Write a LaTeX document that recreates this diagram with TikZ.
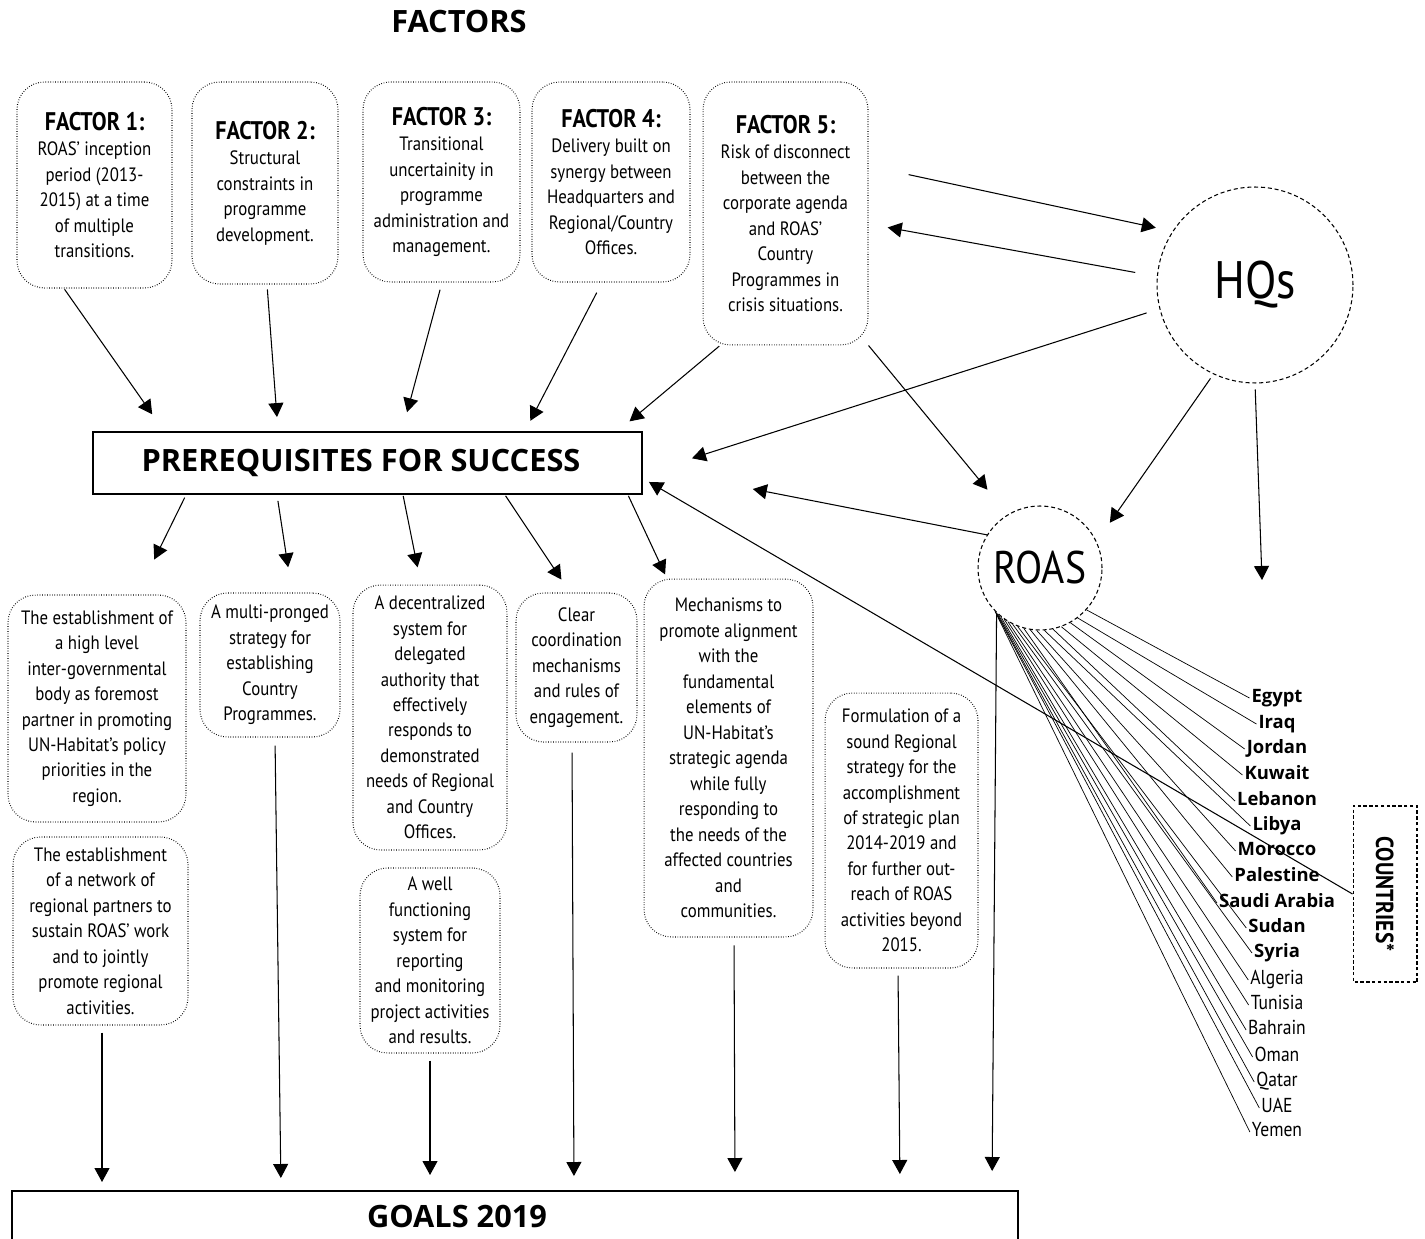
\documentclass[tikz,border=0pt]{standalone}
\usepackage{fontspec}
\setmainfont{PT Sans}[FakeStretch=0.87]
\newfontfamily\headfont{Open Sans}
\usepackage{tikz}
\usetikzlibrary{arrows.meta}

\begin{document}
\begin{tikzpicture}[
    x=0.02cm, y=-0.02cm,
    factorbox/.style={draw, line width=0.6pt, dash pattern=on 0.4pt off 1pt, rounded corners=0.55cm, align=center, font=\fontsize{11}{14.5}\selectfont, inner sep=2pt},
    headbox/.style={draw, line width=1.1pt, font=\headfont\fontsize{17.5}{20}\selectfont\bfseries},
    hub/.style={circle, draw, line width=0.6pt, dash pattern=on 2.3pt off 1.6pt, inner sep=0pt},
    country/.style={font=\fontsize{11.5}{13}\selectfont, inner sep=1pt, text height=8pt, text depth=2.5pt},
    arrow/.style={-{Triangle[length=2.8mm, width=3mm]}, line width=0.6pt},
    ray/.style={line width=0.4pt},
]
\useasboundingbox (0,0) rectangle (1425,1239);

% Title
\node[font=\headfont\fontsize{17.5}{20}\selectfont\bfseries] (title) at (459,22) {FACTORS};

% Factors
\node[factorbox, minimum width=3.1cm, minimum height=4.12cm] (f1) at (94.5,185) {\textbf{\fontsize{14.5}{14.5}\selectfont FACTOR 1:}\\ROAS’ inception\\period (2013-\\2015) at a time\\of multiple\\transitions.};
\node[factorbox, minimum width=2.92cm, minimum height=4.04cm] (f2) at (265,183) {\textbf{\fontsize{14.5}{14.5}\selectfont FACTOR 2:}\\Structural\\constraints in\\programme\\development.};
\node[factorbox, minimum width=3.14cm, minimum height=4cm] (f3) at (441.5,182) {\textbf{\fontsize{14.5}{14.5}\selectfont FACTOR 3:}\\Transitional\\uncertainity in\\programme\\administration and\\management.};
\node[factorbox, minimum width=3.16cm, minimum height=4cm] (f4) at (611,182) {\textbf{\fontsize{14.5}{14.5}\selectfont FACTOR 4:}\\Delivery built on\\synergy between\\Headquarters and\\Regional/Country\\Offices.};
\node[factorbox, minimum width=3.3cm, minimum height=5.26cm] (f5) at (785.5,213.5) {\textbf{\fontsize{14.5}{14.5}\selectfont FACTOR 5:}\\Risk of disconnect\\between the\\corporate agenda\\and ROAS’\\Country\\Programmes in\\crisis situations.};

% HQs and ROAS
\node[hub, minimum size=3.92cm, font=\fontsize{30}{34}\selectfont] (hq) at (1255,285) {HQs};
\node[hub, minimum size=2.48cm, font=\fontsize{26}{30}\selectfont] (roas) at (1040,568) {ROAS};
\coordinate (hqend) at (1262,580);

% Prerequisites
\node[headbox, minimum width=10.98cm, minimum height=1.24cm] (pre) at (367.5,463) {\hspace*{-0.26cm}PREREQUISITES FOR SUCCESS};

\node[factorbox, minimum width=3.56cm, minimum height=4.54cm] (p1) at (97,708.5) {The establishment of\\a high level\\inter-governmental\\body as foremost\\partner in promoting\\UN-Habitat’s policy\\priorities in the\\region.};
\node[factorbox, minimum width=3.5cm, minimum height=3.76cm] (p1b) at (100.5,931) {The establishment\\of a network of\\regional partners to\\sustain ROAS’ work\\and to jointly\\promote regional\\activities.};
\node[factorbox, minimum width=2.8cm, minimum height=2.88cm] (p2) at (270,665) {A multi-pronged\\strategy for\\establishing\\Country\\Programmes.};
\node[factorbox, minimum width=3.08cm, minimum height=5.3cm] (p3) at (430,717.5) {A decentralized\\system for\\delegated\\authority that\\effectively\\responds to\\demonstrated\\needs of Regional\\and Country\\Offices.};
\node[factorbox, minimum width=2.8cm, minimum height=3.7cm] (p3b) at (430,960.5) {A well\\functioning\\system for\\reporting\\and monitoring\\project activities\\and results.};
\node[factorbox, minimum width=2.42cm, minimum height=2.98cm] (p4) at (576.5,667.5) {Clear\\coordination\\mechanisms\\and rules of\\engagement.};
\node[factorbox, minimum width=3.38cm, minimum height=7.16cm] (p5) at (728.5,758) {Mechanisms to\\promote alignment\\with the\\fundamental\\elements of\\UN-Habitat’s\\strategic agenda\\while fully\\responding to\\the needs of the\\affected countries\\and\\communities.};
\node[factorbox, minimum width=3.06cm, minimum height=5.5cm] (p6) at (901.5,830.5) {Formulation of a\\sound Regional\\strategy for the\\accomplishment\\of strategic plan\\2014-2019 and\\for further out-\\reach of ROAS\\activities beyond\\2015.};

% Goals
\node[headbox, line width=1pt, minimum width=20.12cm, minimum height=1.04cm, anchor=north] (goals) at (515,1190) {\hspace*{-2.32cm}GOALS 2019};

% Countries
\node[draw, line width=0.6pt, dash pattern=on 2pt off 1.3pt, rotate=-90, minimum width=3.52cm, minimum height=1.28cm, font=\fontsize{14}{15}\selectfont\bfseries] (ctry) at (1385,894) {COUNTRIES*};

\foreach \cname/\cy/\cang [count=\i] in {Egypt/698/-42, Iraq/724/-53, Jordan/749/-61, Kuwait/775/-70, Lebanon/801/-78, Libya/826/-86, Morocco/851/-93, Palestine/877/-99, Saudi Arabia/903/-105, Sudan/928/-111, Syria/953/-116} {
    \node[country, font=\headfont\fontsize{10.5}{13}\selectfont\bfseries] (cb\i) at (1277,\cy) {\cname};
    \draw[ray] (roas.\cang) -- (cb\i.west);
}
\foreach \cname/\cy/\cang [count=\i] in {Algeria/980/-121, Tunisia/1005/-125, Bahrain/1030/-129, Oman/1057/-132, Qatar/1082/-134, UAE/1108/-135.5, Yemen/1132/-136} {
    \node[country] (cr\i) at (1277,\cy) {\cname};
    \draw[ray] (roas.\cang) -- (cr\i.west);
}

% Factors into prerequisites
\foreach \fb/\sx/\ex/\sa/\sb in {f1/64/164/0.02/0.41, f2/267/278/0.1/0.28, f3/442/402/0.15/0.39, f4/602/525/0.23/0.23, f5/720/618/0.02/0.3}
    \draw[arrow, shorten <=\sa cm, shorten >=\sb cm] (\fb.south -| \sx,0) -- (pre.north -| \ex,0);

% Prerequisites into boxes
\foreach \pb/\sx/\ex/\sa/\sb in {p1/186/137/0.06/0.78, p2/277/292/0.12/0.51, p3/403/421/0.02/0.35, p4/505/570/0.02/0.31, p5/628/667/0.02/0.09}
    \draw[arrow, shorten <=\sa cm, shorten >=\sb cm] (pre.south -| \sx,0) -- (\pb.north -| \ex,0);

% Boxes into goals
\foreach \pb/\sx/\ex/\sa/\sb in {p1b/102/102/0.14/0.16, p2/275/281/0.16/0.24, p3b/430/430/0.14/0.3, p4/572/574/0.2/0.28, p5/734/735/0.16/0.36, p6/898/900/0.14/0.32}
    \draw[arrow, shorten <=\sa cm, shorten >=\sb cm] (\pb.south -| \sx,0) -- (goals.north -| \ex,0);
\draw[arrow, shorten >=0.38cm] (roas.-134) -- (goals.north -| 992,0);

% HQs and ROAS links
\draw[arrow, shorten <=0.82cm, shorten >=0.34cm] ([yshift=0.95cm]f5.east) -- (hq.147);
\draw[arrow, shorten <=0.44cm, shorten >=0.39cm] (hq.175) -- ([yshift=-0.21cm]f5.east);
\draw[arrow, shorten <=0.27cm, shorten >=1.03cm] (hq.194) -- ([yshift=-0.22cm]pre.east);
\draw[arrow, shorten >=0.64cm] (f5.south east) -- (roas.121);
\draw[arrow, shorten <=0.1cm, shorten >=0.46cm] (hq.245) -- (roas.25);
\draw[arrow, shorten <=0.12cm] (hq.south) -- (hqend);
\draw[arrow, shorten >=2.24cm] (roas.148) -- ([yshift=-0.09cm]pre.east);
\draw[arrow] (ctry.south) -- ([shift={(6,-13)}]pre.south east);

\end{tikzpicture}
\end{document}
